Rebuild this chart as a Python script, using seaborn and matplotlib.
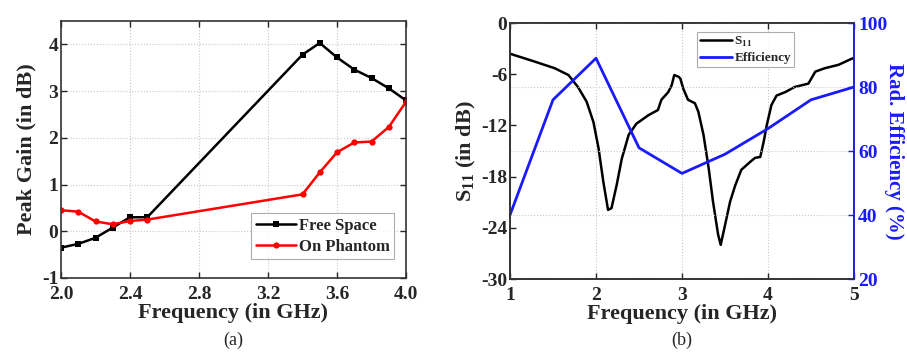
import numpy as np
import pandas as pd
import matplotlib
matplotlib.use("Agg")
import matplotlib.pyplot as plt
import seaborn as sns

# Peak gain vs frequency
gain_freq = [2.0, 2.1, 2.2, 2.3, 2.4, 2.5, 3.4, 3.5, 3.6, 3.7, 3.8, 3.9, 4.0]
gain_free_space = [-0.35, -0.27, -0.14, 0.08, 0.30, 0.30, 3.78, 4.03, 3.72, 3.46, 3.28, 3.06, 2.80]
gain_on_phantom = [0.45, 0.42, 0.21, 0.15, 0.22, 0.25, 0.79, 1.26, 1.69, 1.90, 1.92, 2.23, 2.77]

# Reflection coefficient S11 (dB)
s11_freq = [1.00, 1.25, 1.52, 1.68, 1.79, 1.89, 1.97, 2.03, 2.085, 2.14, 2.18, 2.24,
            2.30, 2.38, 2.47, 2.61, 2.72, 2.76, 2.84, 2.88, 2.91, 2.96, 2.98, 3.015,
            3.07, 3.15, 3.19, 3.25, 3.31, 3.36, 3.42, 3.45, 3.50, 3.56, 3.62, 3.69,
            3.79, 3.85, 3.91, 3.95, 3.985, 4.04, 4.10, 4.20, 4.31, 4.47, 4.55, 4.66,
            4.82, 4.97, 5.00]
s11_db = [-3.6, -4.4, -5.3, -6.1, -7.5, -9.2, -11.6, -14.7, -18.6, -21.9, -21.7, -19.0,
          -15.9, -13.1, -11.8, -10.8, -10.2, -9.0, -8.1, -7.3, -6.1, -6.3, -6.5, -7.7,
          -9.0, -9.4, -10.4, -13.1, -17.0, -20.9, -24.8, -26.0, -23.7, -20.9, -19.0, -17.2,
          -16.3, -15.8, -15.7, -13.9, -12.0, -9.6, -8.5, -8.1, -7.5, -7.1, -5.7, -5.3,
          -4.9, -4.2, -4.1]

# Radiation efficiency (%)
eff_freq = [1.0, 1.5, 2.0, 2.5, 3.0, 3.5, 4.0, 4.5, 5.0]
eff_pct = [40, 76, 89, 61, 53, 59, 67, 76, 80]

sns.set_style("ticks")
plt.rcParams["font.family"] = ["Liberation Serif", "DejaVu Serif"]
plt.rcParams["font.weight"] = "bold"
plt.rcParams["mathtext.fontset"] = "custom"
plt.rcParams["mathtext.rm"] = "Liberation Serif:bold"
plt.rcParams["mathtext.bf"] = "Liberation Serif:bold"
plt.rcParams["axes.unicode_minus"] = False
plt.rcParams["xtick.direction"] = "in"
plt.rcParams["ytick.direction"] = "in"

W, H = 907, 353
fig = plt.figure(figsize=(W / 100, H / 100), dpi=100)

def box(l, t, r, b):
    return [l / W, 1 - b / H, (r - l) / W, (b - t) / H]

grid_kw = dict(color="#c8c8c8", linestyle=":", linewidth=0.8)
tick_fs = 14
label_fs = 16
blue = "#1a1aff"

# ---- (a) Peak gain ----
ax1 = fig.add_axes(box(61, 21, 406, 278))
df_gain = pd.DataFrame({
    "f": gain_freq * 2,
    "g": gain_free_space + gain_on_phantom,
    "case": ["Free Space"] * len(gain_freq) + ["On Phantom"] * len(gain_freq),
})
sns.lineplot(data=df_gain, x="f", y="g", hue="case", style="case",
             palette={"Free Space": "black", "On Phantom": "#ff0000"},
             markers={"Free Space": "s", "On Phantom": "o"},
             dashes=False, linewidth=1.8, markersize=4.5, markeredgewidth=0,
             ax=ax1)
ax1.set_xlim(2.0, 4.0)
ax1.set_ylim(-1, 4.5)
ax1.set_xticks([2.0, 2.4, 2.8, 3.2, 3.6, 4.0])
ax1.set_xticklabels([f"{v:.1f}" for v in [2.0, 2.4, 2.8, 3.2, 3.6, 4.0]])
ax1.set_yticks([-1, 0, 1, 2, 3, 4])
ax1.tick_params(labelsize=tick_fs, top=True, right=True, length=4, width=1, pad=2)
ax1.tick_params(axis="x", pad=6)
ax1.grid(True, **grid_kw)
ax1.set_xlabel("Frequency (in GHz)", fontsize=label_fs, fontweight="bold", labelpad=0)
ax1.set_ylabel("Peak Gain (in dB)", fontsize=label_fs, fontweight="bold", labelpad=4)
for s in ax1.spines.values():
    s.set_linewidth(1.2)
    s.set_color("#333333")
leg1 = ax1.legend(loc="lower right", bbox_to_anchor=(0.965, 0.075), fontsize=12,
                  frameon=True, fancybox=False, edgecolor="#999999",
                  handlelength=2.4, handletextpad=0.2, borderpad=0.25,
                  labelspacing=0.3, borderaxespad=0)
leg1.get_frame().set_linewidth(0.8)
fig.text((61 + 406) / 2 / W, 1 - 340 / H, "(a)", ha="center", va="center",
         fontsize=13, fontweight="normal")

# ---- (b) S11 and efficiency ----
ax2 = fig.add_axes(box(510, 23, 854, 279))
ax3 = ax2.twinx()
sns.lineplot(x=s11_freq, y=s11_db, color="black", linewidth=1.8, ax=ax2,
             label="S$_{11}$", legend=False)
sns.lineplot(x=eff_freq, y=eff_pct, color=blue, linewidth=2.0, ax=ax3,
             label="Efficiency", legend=False)
ax2.set_xlim(1, 5)
ax2.set_ylim(-30, 0)
ax3.set_ylim(20, 100)
ax2.set_xticks([1, 2, 3, 4, 5])
ax2.set_yticks([-30, -24, -18, -12, -6, 0])
ax3.set_yticks([20, 40, 60, 80, 100])
ax2.tick_params(labelsize=tick_fs, top=True, length=4, width=1, pad=2)
ax2.tick_params(axis="x", pad=6)
ax3.tick_params(labelsize=tick_fs, colors=blue, length=4, width=1, pad=3)
ax2.xaxis.grid(True, **grid_kw)
ax3.yaxis.grid(True, **grid_kw)
ax2.set_xlabel("Frequency (in GHz)", fontsize=label_fs, fontweight="bold", labelpad=0)
ax2.set_ylabel("S$_{11}$ (in dB)", fontsize=label_fs, fontweight="bold", labelpad=2)
ax3.set_ylabel("Rad. Efficiency (%)", fontsize=15, fontweight="bold",
               color=blue, rotation=270, labelpad=12)
for s in ax2.spines.values():
    s.set_linewidth(1.2)
    s.set_color("#333333")
for name, s in ax3.spines.items():
    s.set_linewidth(1.2)
    s.set_color(blue if name == "right" else "#333333")
handles = ax2.get_lines()[:1] + ax3.get_lines()[:1]
leg2 = ax3.legend(handles, ["S$_{11}$", "Efficiency"], loc="upper left",
                  bbox_to_anchor=(0.545, 0.965), fontsize=9.5, frameon=True,
                  fancybox=False, edgecolor="#999999", handlelength=2.4,
                  handletextpad=0.2, borderpad=0.2, labelspacing=0.25,
                  borderaxespad=0)
leg2.get_frame().set_linewidth(0.8)
fig.text((510 + 854) / 2 / W, 1 - 340 / H, "(b)", ha="center", va="center",
         fontsize=13, fontweight="normal")

fig.savefig("out.png", dpi=100, facecolor="white")
